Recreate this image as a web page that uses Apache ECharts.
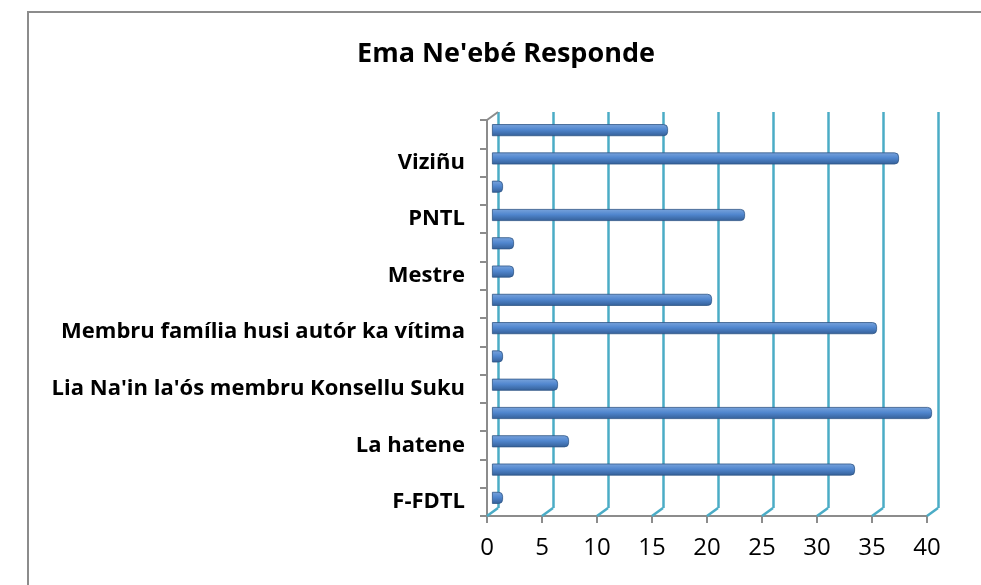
<!DOCTYPE html>
<html>
<head>
<meta charset="utf-8">
<script src="https://cdn.jsdelivr.net/npm/echarts@6/dist/echarts.min.js"></script>
<style>
  html, body { margin: 0; padding: 0; background: #fff; }
  #chart { width: 981px; height: 585px; }
</style>
</head>
<body>
<div id="chart"></div>
<script>
// categories bottom -> top, only every other one is labelled on the chart
var categories = [
  "F-FDTL", "Inan-aman", "La hatene", "Lia Na'in", "Lia Na'in la'ós membru Konsellu Suku",
  "Membru Konsellu Suku", "Membru família husi autór ka vítima", "Membru komunidade",
  "Mestre", "Nai-lulik", "PNTL", "Sosiedade sivil", "Viziñu", "Xefe Suku"
];
var values = [1, 33, 7, 40, 6, 1, 35, 20, 2, 2, 23, 1, 37, 16];
var xTicks = { min: 0, max: 40, interval: 5 };

var tickValues = [];
for (var t = xTicks.min; t <= xTicks.max; t += xTicks.interval) tickValues.push(t);

var chart = echarts.init(document.getElementById("chart"));
var font = "'Open Sans', 'Noto Sans', sans-serif";
var depth = [11, -8]; // 3d offset front -> back wall

var option = {
  animation: false,
  title: {
    text: "Ema Ne'ebé Responde",
    left: 501,
    textAlign: "center",
    top: 36,
    textStyle: { fontFamily: font, fontSize: 27, fontWeight: "bold", color: "#000" }
  },
  graphic: [{
    type: "rect",
    shape: { x: 28, y: 12, width: 1000, height: 620 },
    style: { fill: "none", stroke: "#8c8c8c", lineWidth: 2 },
    silent: true
  }],
  grid: [
    // back wall: gridlines
    { left: 498, right: 43, top: 112, bottom: 77 },
    // front: axes and labels
    { left: 487, right: 54, top: 120, bottom: 69 },
    // middle: bars
    { left: 492, right: 49, top: 116, bottom: 73 }
  ],
  xAxis: [
    {
      gridIndex: 0, type: "value", min: xTicks.min, max: xTicks.max, interval: xTicks.interval,
      axisLine: { show: false }, axisTick: { show: false }, axisLabel: { show: false },
      splitLine: { show: true, lineStyle: { color: "#4bacc6", width: 2.5 } }
    },
    {
      gridIndex: 1, type: "value", min: xTicks.min, max: xTicks.max, interval: xTicks.interval,
      axisLine: { show: true, lineStyle: { color: "#8c8c8c", width: 2 } },
      axisTick: { show: true, length: 7, lineStyle: { color: "#8c8c8c", width: 2 } },
      axisLabel: { fontFamily: font, fontSize: 24, color: "#000", margin: 20 },
      splitLine: { show: false }
    },
    {
      gridIndex: 2, type: "value", min: xTicks.min, max: xTicks.max, show: false
    }
  ],
  yAxis: [
    {
      gridIndex: 0, type: "category", data: categories, show: false
    },
    {
      gridIndex: 1, type: "category", data: categories,
      axisLine: { show: true, lineStyle: { color: "#8c8c8c", width: 2 } },
      axisTick: { show: true, length: 7, interval: 0, lineStyle: { color: "#8c8c8c", width: 2 } },
      axisLabel: { interval: 1, fontFamily: font, fontSize: 22, fontWeight: "bold", color: "#000", margin: 22 }
    },
    {
      gridIndex: 2, type: "category", data: categories, show: false
    }
  ],
  series: [{
    // floor edges of the gridlines and the top-left corner of the wall
    type: "custom",
    xAxisIndex: 1,
    yAxisIndex: 1,
    silent: true,
    z: 1,
    data: tickValues.map(function (v) { return [v]; }),
    renderItem: function (params, api) {
      var cs = params.coordSys;
      var x = api.coord([api.value(0), categories[0]])[0];
      var bottom = cs.y + cs.height;
      var children = [{
        type: "line",
        shape: { x1: x, y1: bottom, x2: x + depth[0], y2: bottom + depth[1] },
        style: { stroke: "#4bacc6", lineWidth: 2.5 }
      }];
      if (params.dataIndex === 0) {
        children.push({
          type: "line",
          shape: { x1: x, y1: cs.y, x2: x + depth[0], y2: cs.y + depth[1] },
          style: { stroke: "#8c8c8c", lineWidth: 2 }
        });
      }
      return { type: "group", children: children };
    }
  }, {
    type: "bar",
    xAxisIndex: 2,
    yAxisIndex: 2,
    data: values,
    barWidth: 12,
    z: 3,
    itemStyle: {
      borderRadius: [0, 4, 4, 0],
      borderColor: "#2f5585",
      borderWidth: 0.8,
      color: new echarts.graphic.LinearGradient(0, 0, 0, 1, [
        { offset: 0, color: "#7aa4dc" },
        { offset: 0.45, color: "#5187cf" },
        { offset: 1, color: "#345f97" }
      ])
    }
  }]
};

chart.setOption(option);
</script>
</body>
</html>
